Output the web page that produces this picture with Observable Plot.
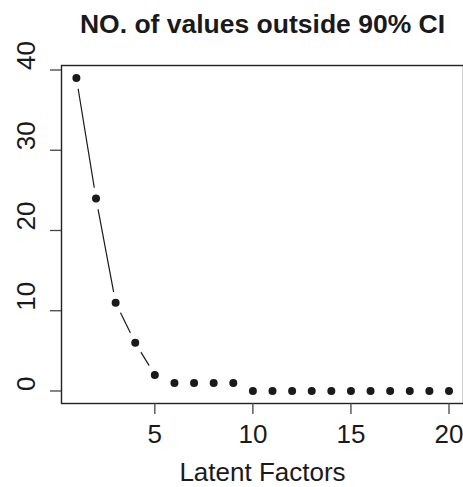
<!DOCTYPE html>
<html>
<head>
<meta charset="utf-8">
<script src="https://cdn.jsdelivr.net/npm/d3@7"></script>
<script src="https://cdn.jsdelivr.net/npm/@observablehq/plot@0.6"></script>
<style>
  html, body { margin: 0; padding: 0; background: #fff; }
  svg { display: block; }
</style>
</head>
<body>
<div id="chart"></div>
<script>
const factors = [1,2,3,4,5,6,7,8,9,10,11,12,13,14,15,16,17,18,19,20];
const outside = [39,24,11,6,2,1,1,1,1,0,0,0,0,0,0,0,0,0,0,0];
const xTicks = [5,10,15,20];
const yTicks = [0,10,20,30,40];
const title = "NO. of values outside 90% CI";
const xLabel = "Latent Factors";

const data = factors.map((f, i) => ({f, v: outside[i]}));
const ink = "#1a1a1a";
const font = "Liberation Sans, Arial, Helvetica, sans-serif";

const chart = Plot.plot({
  width: 463,
  height: 487,
  marginLeft: 61,
  marginRight: 0,
  marginTop: 65,
  marginBottom: 84,
  style: {fontFamily: font, background: "#fff", overflow: "visible"},
  x: {domain: [0.24, 20.74]},
  y: {domain: [-1.56, 40.56]},
  marks: [
    Plot.frame({stroke: "#222", strokeWidth: 1.4}),
    Plot.axisX({ticks: xTicks, tickSize: 11, tickFormat: () => "", stroke: "#444", strokeWidth: 1.3, label: null}),
    Plot.axisY({ticks: yTicks, tickSize: 11, tickFormat: () => "", stroke: "#444", strokeWidth: 1.3, label: null}),
    Plot.text(xTicks, {x: d => d, text: d => String(d), frameAnchor: "bottom", lineAnchor: "bottom", dy: 39, fontSize: 26, fill: ink}),
    Plot.text(yTicks, {y: d => d, text: d => String(d), frameAnchor: "left", rotate: -90, dx: -35, fontSize: 26, fill: ink}),
    Plot.text([xLabel], {text: d => d, frameAnchor: "bottom", lineAnchor: "bottom", dy: 77.5, fontSize: 26, fill: ink}),
    Plot.text([title], {text: d => d, frameAnchor: "top", lineAnchor: "bottom", dy: -33, fontSize: 26.5, fontWeight: "bold", fill: ink}),
    Plot.line(data, {x: "f", y: "v", stroke: ink, strokeWidth: 1.2}),
    Plot.dot(data, {x: "f", y: "v", r: 11, fill: "#fff", stroke: "none"}),
    Plot.dot(data, {x: "f", y: "v", r: 4, fill: ink, stroke: "none"})
  ]
});
document.getElementById("chart").appendChild(chart);
</script>
</body>
</html>
